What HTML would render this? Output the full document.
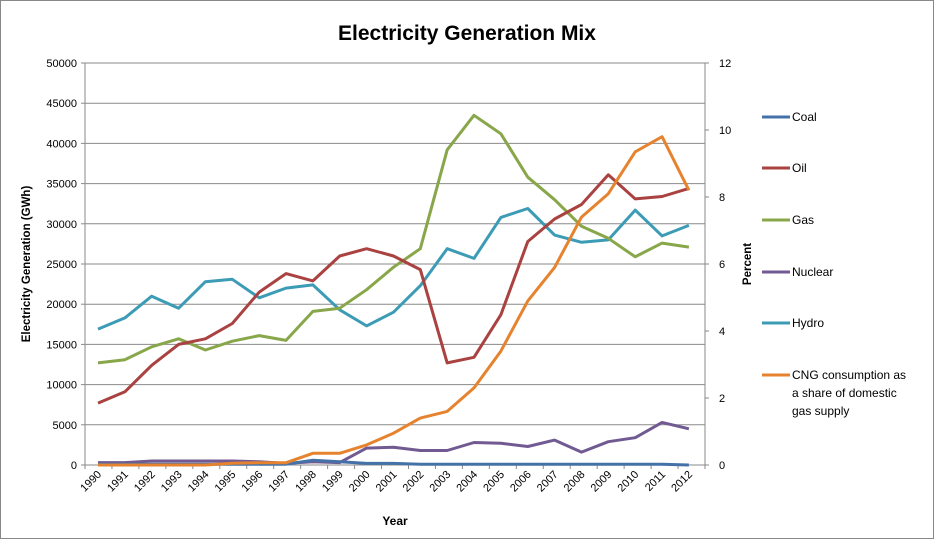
<!DOCTYPE html>
<html><head><meta charset="utf-8"><style>
html,body{margin:0;padding:0;background:#fff}
svg{display:block;font-family:"Liberation Sans",sans-serif}
</style></head><body>
<svg id="s" width="935" height="540" xmlns="http://www.w3.org/2000/svg">
<rect x="0.5" y="0.5" width="933" height="538" fill="#fff" stroke="#888"/>
<text x="467" y="40" text-anchor="middle" font-size="21" font-weight="bold" fill="#000">Electricity Generation Mix</text>
<g id="grid"></g>
<g id="lines" fill="none" stroke-width="3" stroke-linejoin="round"></g>
<text transform="translate(30,264) rotate(-90)" text-anchor="middle" font-size="11.5" font-weight="bold">Electricity Generation (GWh)</text>
<text transform="translate(751,264) rotate(-90)" text-anchor="middle" font-size="11.5" font-weight="bold">Percent</text>
<text x="395" y="525" text-anchor="middle" font-size="12" font-weight="bold">Year</text>
<g font-size="12" fill="#000">
<line x1="762" y1="117" x2="790" y2="117" stroke="#4472a8" stroke-width="3"/><text x="792" y="121">Coal</text>
<line x1="762" y1="168" x2="790" y2="168" stroke="#a94240" stroke-width="3"/><text x="792" y="172">Oil</text>
<line x1="762" y1="220" x2="790" y2="220" stroke="#88a64a" stroke-width="3"/><text x="792" y="224">Gas</text>
<line x1="762" y1="272" x2="790" y2="272" stroke="#715a92" stroke-width="3"/><text x="792" y="276">Nuclear</text>
<line x1="762" y1="323" x2="790" y2="323" stroke="#3c9bb5" stroke-width="3"/><text x="792" y="327">Hydro</text>
<line x1="762" y1="375" x2="790" y2="375" stroke="#e5832f" stroke-width="3"/><text x="792" y="379">CNG consumption as</text><text x="792" y="397">a share of domestic</text><text x="792" y="415">gas supply</text>
</g>
</svg>
<script>
var NS="http://www.w3.org/2000/svg";
var g=document.getElementById("grid"),L=document.getElementById("lines");
function el(t,a,p,txt){var e=document.createElementNS(NS,t);for(var k in a)e.setAttribute(k,a[k]);if(txt!=null)e.textContent=txt;p.appendChild(e);return e;}
var x0=85,x1=705,yb=465,yt=63;
function Y(v){return yb-(v/50000)*(yb-yt);}
function YR(v){return yb-(v/12)*(yb-yt);}
function X(i){return 98+i*26.86;}
for(var v=0;v<=50000;v+=5000){var y=Y(v);
 if(v>0)el("line",{x1:x0,x2:x1,y1:y,y2:y,stroke:"#8a8a8a","stroke-width":1},g);
 el("line",{x1:x0-4,x2:x0,y1:y,y2:y,stroke:"#8a8a8a"},g);
 el("text",{x:x0-8,y:y+4,"text-anchor":"end","font-size":11},g,String(v));}
for(var v=0;v<=12;v+=2){var y=YR(v);el("line",{x1:x1,x2:x1+4,y1:y,y2:y,stroke:"#8a8a8a"},g);
 el("text",{x:x1+14,y:y+4,"font-size":11},g,String(v));}
el("line",{x1:x0,x2:x0,y1:yt,y2:yb,stroke:"#8a8a8a"},g);
el("line",{x1:x1,x2:x1,y1:yt,y2:yb,stroke:"#8a8a8a"},g);
el("line",{x1:x0,x2:x1,y1:yb,y2:yb,stroke:"#8a8a8a"},g);
for(var i=0;i<=23;i++){var xx=x0+i*(x1-x0)/23;el("line",{x1:xx,x2:xx,y1:yb,y2:yb+4,stroke:"#8a8a8a"},g);}
for(var i=0;i<23;i++){var xx=X(i)+4,yy=yb+10;el("text",{transform:"translate("+xx+","+yy+") rotate(-45)","text-anchor":"end","font-size":11},g,String(1990+i));}
var D={
"#715a92":[300,300,500,500,500,500,400,200,400,300,2100,2200,1800,1800,2800,2700,2300,3100,1600,2900,3400,5300,4500],
"#4472a8":[100,100,100,100,100,100,100,100,600,400,200,200,100,100,100,100,100,100,100,100,100,100,0],
"#3c9bb5":[16900,18300,21000,19500,22800,23100,20800,22000,22400,19300,17300,19000,22300,26900,25700,30800,31900,28600,27700,28000,31700,28500,29800],
"#88a64a":[12700,13100,14700,15700,14300,15400,16100,15500,19100,19500,21800,24600,26900,39200,43500,41200,35800,33000,29700,28200,25900,27600,27100],
"#a94240":[7700,9100,12400,15000,15700,17600,21500,23800,22900,26000,26900,26000,24300,12700,13400,18700,27800,30600,32400,36100,33100,33400,34400]};
for(var c in D){var p=D[c].map(function(v,i){return X(i).toFixed(1)+","+Y(v).toFixed(1)}).join(" ");el("polyline",{points:p,stroke:c},L);}
var C=[0,0,0,0,0,0.05,0.07,0.07,0.35,0.35,0.6,0.95,1.4,1.6,2.3,3.4,4.9,5.9,7.4,8.1,9.35,9.8,8.2];
el("polyline",{points:C.map(function(v,i){return X(i).toFixed(1)+","+YR(v).toFixed(1)}).join(" "),stroke:"#e5832f"},L);
</script>
</body></html>
